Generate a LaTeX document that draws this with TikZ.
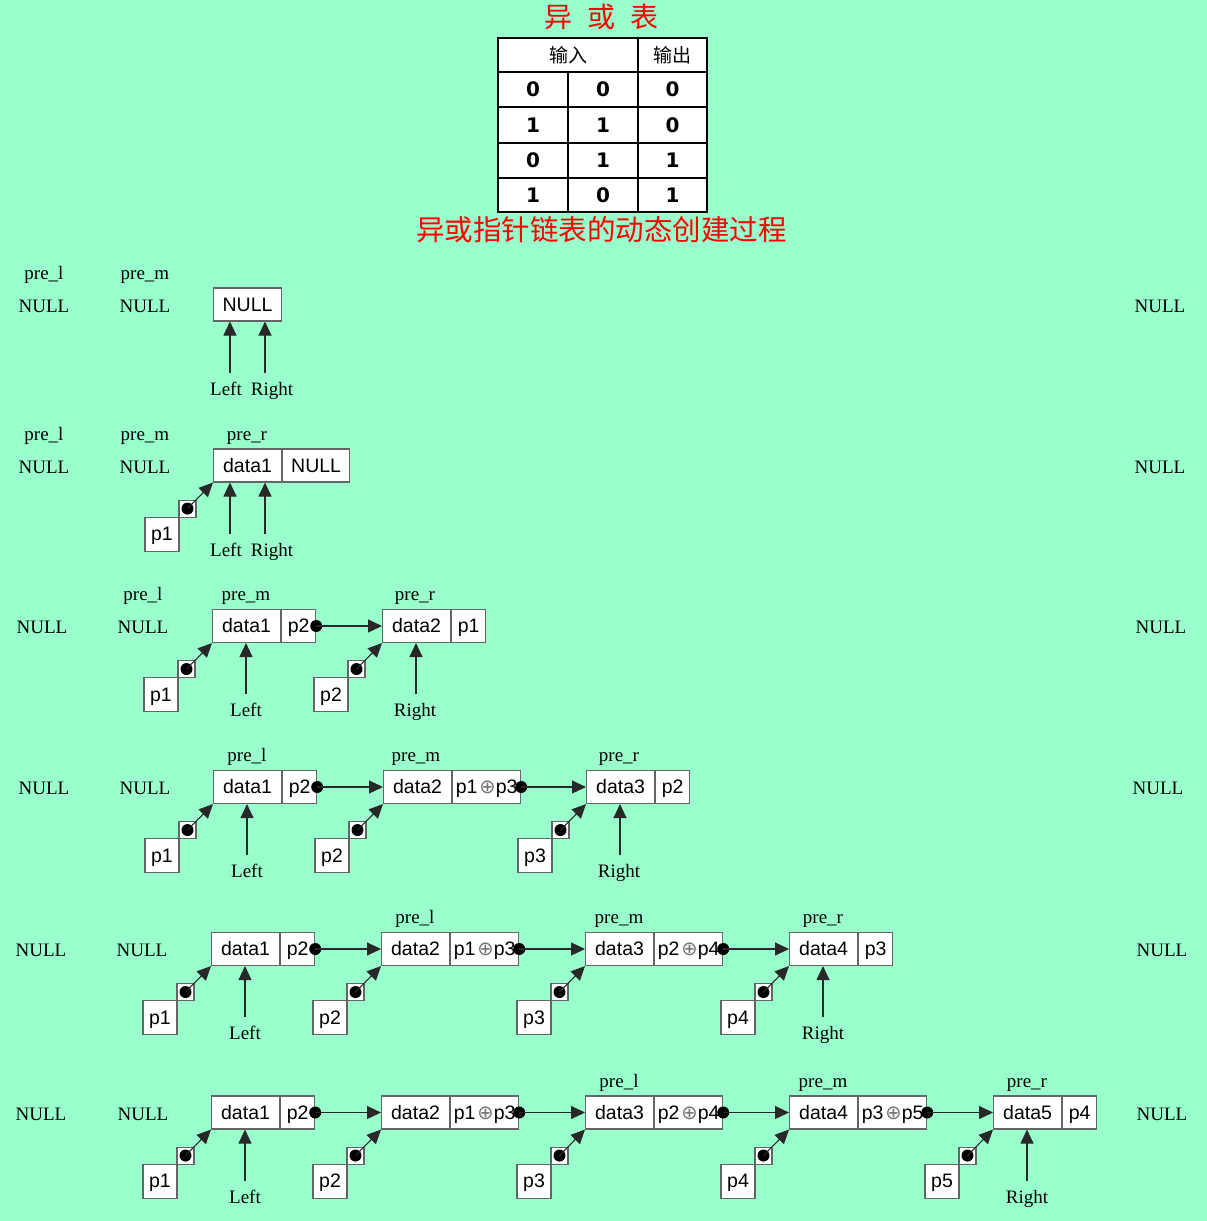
\documentclass[tikz,border=0pt]{standalone}
\usepackage{fontspec}
\setmainfont{Liberation Serif}
\setsansfont{Liberation Sans}
\newfontfamily\cjk{Noto Sans CJK SC}
\newfontfamily\tabfont{DejaVu Sans}
\newfontfamily\symfnt{DejaVu Sans}
\usetikzlibrary{arrows.meta,calc}
\definecolor{bg}{RGB}{153,255,204}
\definecolor{boxline}{RGB}{100,100,100}
\definecolor{arr}{RGB}{40,40,40}
\tikzset{
  lab/.style={font=\fontsize{19}{22}\selectfont, inner sep=0pt, anchor=base},
  cellbox/.style={draw=boxline, fill=white, line width=1.1pt, font=\sffamily\fontsize{19.5}{22}\selectfont,
     minimum height=33pt, inner sep=0pt, text height=17.6pt, text depth=4pt},
  sqbox/.style={draw=boxline, fill=white, line width=1.1pt, minimum size=17pt, inner sep=0pt},
  dot/.style={circle, fill=black, minimum size=12pt, inner sep=0pt},
  ptr/.style={draw=arr, line width=1.1pt, -{Triangle[length=14pt,width=13pt]}},
  ttl/.style={text=red, font=\cjk\fontsize{28.5}{30}\selectfont, inner sep=0pt},
  thead/.style={font=\cjk\fontsize{19}{22}\selectfont, inner sep=0pt},
  tdig/.style={font=\tabfont\bfseries\fontsize{20}{22}\selectfont, inner sep=0pt},
}
% data cell + pointer cell
\newcommand\cellpair[6]{%
  \node[cellbox, minimum width=68pt, anchor=west] (#1d) at (#2,#3) {#4};
  \node[cellbox, minimum width=#6, anchor=west] (#1p) at (#1d.east) {#5};}
% pointer box p_i with dot and arrow to the data cell
\newcommand\ptrbox[3]{%
  \node[cellbox, minimum width=34pt, minimum height=34pt] (#1) at ($(#3.south west)+(-51,51.5)$) {#2};
  \node[sqbox] (#1s) at ($(#3.south west)+(-25.5,26)$) {};
  \node[dot] (#1o) at (#1s.center) {};
  \draw[ptr] (#1o.center) -- (#3.south west);}
% link from pointer cell to next data cell
\newcommand\linkto[2]{%
  \node[dot] (#1o) at (#1p.east) {};
  \draw[ptr] (#1o.center) -- (#2d.west);}
% upward arrow with label: name, arrow x, label x, label baseline y, target, text
\newcommand\upptr[6]{%
  \node[lab] (#1) at (#3,#4) {#6};
  \coordinate (#1a) at ($(#2,#4)+(0,-22.5)$);
  \draw[ptr] (#1a) -- (#1a |- #5.south);}
\newcommand\xo[2]{p#1\hspace{2pt}{\symfnt\color{black!55}⊕}p#2}

\begin{document}
\begin{tikzpicture}[x=1pt,y=-1pt]
\useasboundingbox (0,0) rectangle (1207,1221);
\fill[bg] (0,0) rectangle (1207,1221);

% ---------- title and XOR table ----------
\node[ttl, font=\cjk\fontsize{28}{30}\selectfont] (title) at (601.5,17) {异\hspace{15pt}或\hspace{15pt}表};
\fill[white] (498,38) rectangle (707,212);
\draw[line width=2pt] (498,38) rectangle (707,212);
\foreach \yy in {72,107,143,178} \draw[line width=2pt] (498,\yy) -- (707,\yy);
\draw[line width=2pt] (638,38) -- (638,212);
\draw[line width=2pt] (568,72) -- (568,212);
\node[thead] (hin) at (568,55) {输入};
\node[thead] (hout) at (672.5,55) {输出};
\foreach \ry/\a/\b/\c [count=\k] in {89.5/0/0/0, 125/1/1/0, 160.5/0/1/1, 195/1/0/1}{
  \node[tdig] (ta\k) at (533,\ry) {\a};
  \node[tdig] (tb\k) at (603,\ry) {\b};
  \node[tdig] (tc\k) at (672.5,\ry) {\c};
}
\node[ttl] (subtitle) at (601.5,230) {异或指针链表的动态创建过程};

% ---------- row 1 ----------
\node[lab] (r1l) at (44,279) {pre\_l};
\node[lab] (r1m) at (145,279) {pre\_m};
\node[lab] (r1n1) at (44,312) {NULL};
\node[lab] (r1n2) at (145,312) {NULL};
\node[lab] (r1n3) at (1160,312) {NULL};
\node[cellbox, minimum width=68pt, anchor=west] (r1d) at (213,304.5) {NULL};
\upptr{r1L}{230}{226}{395}{r1d}{Left}
\upptr{r1R}{265}{272}{395}{r1d}{Right}

% ---------- row 2 ----------
\node[lab] (r2l) at (44,440) {pre\_l};
\node[lab] (r2m) at (145,440) {pre\_m};
\node[lab] (r2r) at (247,440) {pre\_r};
\node[lab] (r2n1) at (44,473) {NULL};
\node[lab] (r2n2) at (145,473) {NULL};
\node[lab] (r2n3) at (1160,473) {NULL};
\cellpair{r2a}{213}{465.5}{data1}{NULL}{67pt}
\ptrbox{r2q1}{p1}{r2ad}
\upptr{r2L}{230}{226}{556}{r2ad}{Left}
\upptr{r2R}{265}{272}{556}{r2ad}{Right}

% ---------- row 3 ----------
\node[lab] (r3l) at (143,600.5) {pre\_l};
\node[lab] (r3m) at (246,600.5) {pre\_m};
\node[lab] (r3r) at (415,600.5) {pre\_r};
\node[lab] (r3n1) at (42,633.5) {NULL};
\node[lab] (r3n2) at (143,633.5) {NULL};
\node[lab] (r3n3) at (1161,633.5) {NULL};
\cellpair{r3a}{212}{626}{data1}{p2}{34pt}
\cellpair{r3b}{382}{626}{data2}{p1}{34pt}
\linkto{r3a}{r3b}
\ptrbox{r3q1}{p1}{r3ad}
\ptrbox{r3q2}{p2}{r3bd}
\upptr{r3L}{246}{246}{716.5}{r3ad}{Left}
\upptr{r3R}{416}{415}{716.5}{r3bd}{Right}

% ---------- row 4 ----------
\node[lab] (r4l) at (247,761.5) {pre\_l};
\node[lab] (r4m) at (416,761.5) {pre\_m};
\node[lab] (r4r) at (619,761.5) {pre\_r};
\node[lab] (r4n1) at (44,794.5) {NULL};
\node[lab] (r4n2) at (145,794.5) {NULL};
\node[lab] (r4n3) at (1158,794.5) {NULL};
\cellpair{r4a}{213}{787}{data1}{p2}{34pt}
\cellpair{r4b}{383}{787}{data2}{\xo13}{68pt}
\cellpair{r4c}{586}{787}{data3}{p2}{34pt}
\linkto{r4a}{r4b}
\linkto{r4b}{r4c}
\ptrbox{r4q1}{p1}{r4ad}
\ptrbox{r4q2}{p2}{r4bd}
\ptrbox{r4q3}{p3}{r4cd}
\upptr{r4L}{247}{247}{877.5}{r4ad}{Left}
\upptr{r4R}{620}{619}{877.5}{r4cd}{Right}

% ---------- row 5 ----------
\node[lab] (r5l) at (415,923.5) {pre\_l};
\node[lab] (r5m) at (619,923.5) {pre\_m};
\node[lab] (r5r) at (823,923.5) {pre\_r};
\node[lab] (r5n1) at (41,956.5) {NULL};
\node[lab] (r5n2) at (142,956.5) {NULL};
\node[lab] (r5n3) at (1162,956.5) {NULL};
\cellpair{r5a}{211}{949}{data1}{p2}{34pt}
\cellpair{r5b}{381}{949}{data2}{\xo13}{68pt}
\cellpair{r5c}{585}{949}{data3}{\xo24}{68pt}
\cellpair{r5e}{789}{949}{data4}{p3}{34pt}
\linkto{r5a}{r5b}
\linkto{r5b}{r5c}
\linkto{r5c}{r5e}
\ptrbox{r5q1}{p1}{r5ad}
\ptrbox{r5q2}{p2}{r5bd}
\ptrbox{r5q3}{p3}{r5cd}
\ptrbox{r5q4}{p4}{r5ed}
\upptr{r5L}{245}{245}{1039.5}{r5ad}{Left}
\upptr{r5R}{823}{823}{1039.5}{r5ed}{Right}

% ---------- row 6 ----------
\node[lab] (r6l) at (619,1087) {pre\_l};
\node[lab] (r6m) at (823,1087) {pre\_m};
\node[lab] (r6r) at (1027,1087) {pre\_r};
\node[lab] (r6n1) at (41,1120) {NULL};
\node[lab] (r6n2) at (143,1120) {NULL};
\node[lab] (r6n3) at (1162,1120) {NULL};
\cellpair{r6a}{211}{1112.5}{data1}{p2}{34pt}
\cellpair{r6b}{381}{1112.5}{data2}{\xo13}{68pt}
\cellpair{r6c}{585}{1112.5}{data3}{\xo24}{68pt}
\cellpair{r6e}{789}{1112.5}{data4}{\xo35}{68pt}
\cellpair{r6f}{993}{1112.5}{data5}{p4}{34pt}
\linkto{r6a}{r6b}
\linkto{r6b}{r6c}
\linkto{r6c}{r6e}
\linkto{r6e}{r6f}
\ptrbox{r6q1}{p1}{r6ad}
\ptrbox{r6q2}{p2}{r6bd}
\ptrbox{r6q3}{p3}{r6cd}
\ptrbox{r6q4}{p4}{r6ed}
\ptrbox{r6q5}{p5}{r6fd}
\upptr{r6L}{245}{245}{1203}{r6ad}{Left}
\upptr{r6R}{1027}{1027}{1203}{r6fd}{Right}
\end{tikzpicture}
\end{document}
